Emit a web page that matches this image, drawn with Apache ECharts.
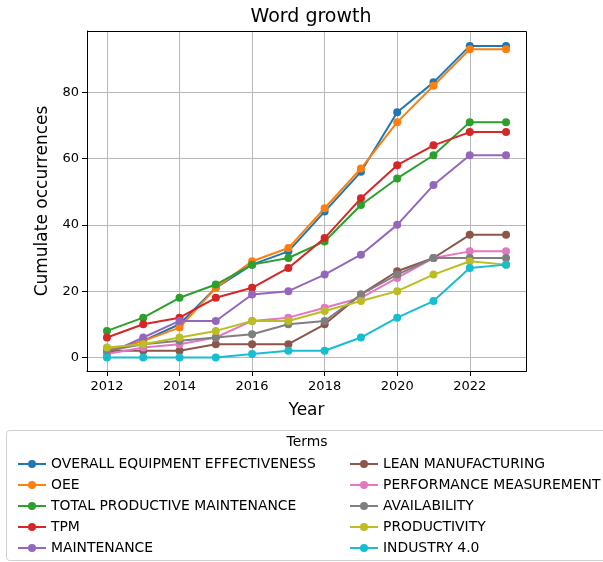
<!DOCTYPE html>
<html>
<head>
<meta charset="utf-8">
<script src="https://cdn.jsdelivr.net/npm/echarts@6/dist/echarts.min.js"></script>
<style>
  html, body { margin: 0; padding: 0; background: #fff; }
  #chart { width: 603px; height: 562px; }
</style>
</head>
<body>
<div id="chart"></div>
<script>
// Years on the x axis
const years = [2012, 2013, 2014, 2015, 2016, 2017, 2018, 2019, 2020, 2021, 2022, 2023];
const xTicks = [2012, 2014, 2016, 2018, 2020, 2022];
const yTicks = [0, 20, 40, 60, 80];

// Cumulative occurrences per term
const overallEquipmentEffectiveness = [2, 5, 10, 21, 28, 32, 44, 56, 74, 83, 94, 94];
const oee = [2, 5, 9, 21, 29, 33, 45, 57, 71, 82, 93, 93];
const totalProductiveMaintenance = [8, 12, 18, 22, 28, 30, 35, 46, 54, 61, 71, 71];
const tpm = [6, 10, 12, 18, 21, 27, 36, 48, 58, 64, 68, 68];
const maintenance = [1, 6, 11, 11, 19, 20, 25, 31, 40, 52, 61, 61];
const leanManufacturing = [2, 2, 2, 4, 4, 4, 10, 19, 26, 30, 37, 37];
const performanceMeasurement = [1, 3, 4, 6, 11, 12, 15, 18, 24, 30, 32, 32];
const availability = [2, 4, 5, 6, 7, 10, 11, 19, 25, 30, 30, 30];
const productivity = [3, 4, 6, 8, 11, 11, 14, 17, 20, 25, 29, 28];
const industry40 = [0, 0, 0, 0, 1, 2, 2, 6, 12, 17, 27, 28];

const terms = [
  ['OVERALL EQUIPMENT EFFECTIVENESS', overallEquipmentEffectiveness, '#1f77b4'],
  ['OEE', oee, '#ff7f0e'],
  ['TOTAL PRODUCTIVE MAINTENANCE', totalProductiveMaintenance, '#2ca02c'],
  ['TPM', tpm, '#d62728'],
  ['MAINTENANCE', maintenance, '#9467bd'],
  ['LEAN MANUFACTURING', leanManufacturing, '#8c564b'],
  ['PERFORMANCE MEASUREMENT', performanceMeasurement, '#e377c2'],
  ['AVAILABILITY', availability, '#7f7f7f'],
  ['PRODUCTIVITY', productivity, '#bcbd22'],
  ['INDUSTRY 4.0', industry40, '#17becf']
];

const FONT = 'DejaVu Sans';

const series = terms.map(([name, values, color], i) => ({
  name: name,
  type: 'line',
  data: years.map((y, k) => [y, values[k]]),
  symbol: 'circle',
  symbolSize: 8,
  showSymbol: true,
  color: color,
  lineStyle: { width: 2, color: color },
  itemStyle: { color: color },
  emphasis: { disabled: true },
  z: 2 + i,
  animation: false
}));

const legendCommon = {
  orient: 'vertical',
  top: 452,
  itemWidth: 28,
  itemHeight: 10,
  itemGap: 7,
  textStyle: { fontFamily: FONT, fontSize: 13.9, color: '#000', lineHeight: 14 },
  selectedMode: false
};

const option = {
  animation: false,
  backgroundColor: '#fff',
  title: {
    text: 'Word growth',
    left: 306,
    textAlign: 'center',
    top: 3,
    textStyle: { fontFamily: FONT, fontSize: 19, fontWeight: 'normal', color: '#000' }
  },
  grid: { left: 87, right: 77, top: 31, bottom: 191, show: false },
  xAxis: {
    type: 'value',
    min: 2011.45,
    max: 2023.55,
    name: 'Year',
    nameLocation: 'middle',
    nameGap: 31,
    nameTextStyle: { fontFamily: FONT, fontSize: 17, color: '#000' },
    axisLine: { show: true, onZero: false, lineStyle: { color: '#000', width: 1 } },
    axisTick: { show: true, customValues: xTicks, length: 5, lineStyle: { color: '#000' } },
    axisLabel: { customValues: xTicks, fontFamily: FONT, fontSize: 13, color: '#000', margin: 9, formatter: v => String(v) },
    splitLine: { show: true, lineStyle: { color: '#b8b8b8', width: 1 } }
  },
  yAxis: {
    type: 'value',
    min: -4.1,
    max: 98.5,
    name: 'Cumulate occurrences',
    nameLocation: 'middle',
    nameGap: 36,
    nameTextStyle: { fontFamily: FONT, fontSize: 17, color: '#000' },
    axisLine: { show: true, onZero: false, lineStyle: { color: '#000', width: 1 } },
    axisTick: { show: true, customValues: yTicks, length: 5, lineStyle: { color: '#000' } },
    axisLabel: { customValues: yTicks, fontFamily: FONT, fontSize: 13, color: '#000', margin: 8 },
    splitLine: { show: true, lineStyle: { color: '#b8b8b8', width: 1 } }
  },
  legend: [
    Object.assign({}, legendCommon, { left: 12, data: terms.slice(0, 5).map(t => t[0]) }),
    Object.assign({}, legendCommon, { left: 344, data: terms.slice(5).map(t => t[0]) })
  ],
  graphic: [
    {
      type: 'rect',
      shape: { x: 6.5, y: 430.5, width: 602, height: 130, r: 3 },
      style: { fill: 'rgba(255,255,255,0.8)', stroke: '#d0d0d0', lineWidth: 1 },
      z: -1,
      silent: true
    },
    {
      type: 'text',
      x: 307,
      y: 442,
      style: { text: 'Terms', fontFamily: FONT, fontSize: 13.9, fill: '#000', textAlign: 'center', textVerticalAlign: 'middle' },
      silent: true
    },
    {
      type: 'rect',
      shape: { x: 87.5, y: 31.5, width: 439, height: 340 },
      style: { fill: 'none', stroke: '#000', lineWidth: 1 },
      z: 10,
      silent: true
    }
  ],
  series: series
};

const chart = echarts.init(document.getElementById('chart'), null, { renderer: 'canvas' });
chart.setOption(option);
</script>
</body>
</html>
